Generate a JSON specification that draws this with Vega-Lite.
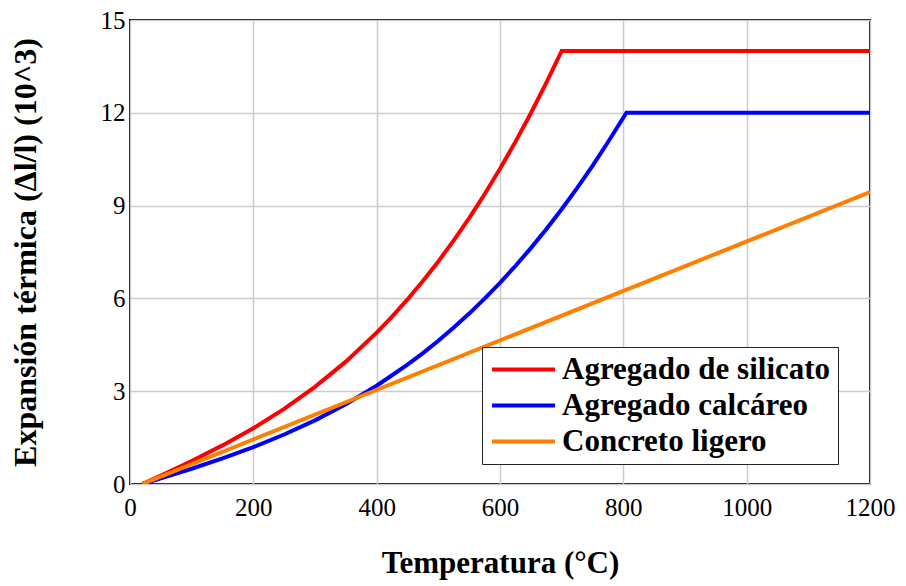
{
  "$schema": "https://vega.github.io/schema/vega-lite/v6.json",
  "width": 740,
  "height": 464,
  "autosize": {"type": "none"},
  "padding": {"left": 130, "top": 20, "right": 36, "bottom": 102},
  "background": "white",
  "config": {
    "view": {"stroke": "black", "strokeWidth": 2},
    "font": "Liberation Serif"
  },
  "data": {
    "values": [
      {"t": 20, "v": 0.0, "s": "Agregado de silicato"},
      {"t": 50, "v": 0.273, "s": "Agregado de silicato"},
      {"t": 100, "v": 0.743, "s": "Agregado de silicato"},
      {"t": 150, "v": 1.248, "s": "Agregado de silicato"},
      {"t": 200, "v": 1.804, "s": "Agregado de silicato"},
      {"t": 250, "v": 2.429, "s": "Agregado de silicato"},
      {"t": 300, "v": 3.141, "s": "Agregado de silicato"},
      {"t": 350, "v": 3.956, "s": "Agregado de silicato"},
      {"t": 400, "v": 4.892, "s": "Agregado de silicato"},
      {"t": 425, "v": 5.411, "s": "Agregado de silicato"},
      {"t": 450, "v": 5.966, "s": "Agregado de silicato"},
      {"t": 475, "v": 6.560, "s": "Agregado de silicato"},
      {"t": 500, "v": 7.195, "s": "Agregado de silicato"},
      {"t": 525, "v": 7.873, "s": "Agregado de silicato"},
      {"t": 550, "v": 8.597, "s": "Agregado de silicato"},
      {"t": 575, "v": 9.368, "s": "Agregado de silicato"},
      {"t": 600, "v": 10.188, "s": "Agregado de silicato"},
      {"t": 625, "v": 11.060, "s": "Agregado de silicato"},
      {"t": 650, "v": 11.986, "s": "Agregado de silicato"},
      {"t": 675, "v": 12.969, "s": "Agregado de silicato"},
      {"t": 700, "v": 14.0, "s": "Agregado de silicato"},
      {"t": 1200, "v": 14.0, "s": "Agregado de silicato"},
      {"t": 20, "v": 0.0, "s": "Agregado calcáreo"},
      {"t": 50, "v": 0.182, "s": "Agregado calcáreo"},
      {"t": 100, "v": 0.494, "s": "Agregado calcáreo"},
      {"t": 150, "v": 0.827, "s": "Agregado calcáreo"},
      {"t": 200, "v": 1.192, "s": "Agregado calcáreo"},
      {"t": 250, "v": 1.599, "s": "Agregado calcáreo"},
      {"t": 300, "v": 2.058, "s": "Agregado calcáreo"},
      {"t": 350, "v": 2.580, "s": "Agregado calcáreo"},
      {"t": 400, "v": 3.176, "s": "Agregado calcáreo"},
      {"t": 450, "v": 3.856, "s": "Agregado calcáreo"},
      {"t": 475, "v": 4.230, "s": "Agregado calcáreo"},
      {"t": 500, "v": 4.630, "s": "Agregado calcáreo"},
      {"t": 525, "v": 5.056, "s": "Agregado calcáreo"},
      {"t": 550, "v": 5.509, "s": "Agregado calcáreo"},
      {"t": 575, "v": 5.992, "s": "Agregado calcáreo"},
      {"t": 600, "v": 6.504, "s": "Agregado calcáreo"},
      {"t": 625, "v": 7.048, "s": "Agregado calcáreo"},
      {"t": 650, "v": 7.625, "s": "Agregado calcáreo"},
      {"t": 675, "v": 8.236, "s": "Agregado calcáreo"},
      {"t": 700, "v": 8.882, "s": "Agregado calcáreo"},
      {"t": 725, "v": 9.565, "s": "Agregado calcáreo"},
      {"t": 750, "v": 10.286, "s": "Agregado calcáreo"},
      {"t": 775, "v": 11.047, "s": "Agregado calcáreo"},
      {"t": 805, "v": 12.0, "s": "Agregado calcáreo"},
      {"t": 1200, "v": 12.0, "s": "Agregado calcáreo"},
      {"t": 20, "v": 0.0, "s": "Concreto ligero"},
      {"t": 1200, "v": 9.44, "s": "Concreto ligero"}
    ]
  },
  "mark": {"type": "line", "strokeWidth": 4, "clip": true},
  "encoding": {
    "x": {
      "field": "t",
      "type": "quantitative",
      "scale": {"domain": [0, 1200], "nice": false},
      "axis": {
        "title": "Temperatura (°C)",
        "values": [0, 200, 400, 600, 800, 1000, 1200],
        "format": "d",
        "domain": false,
        "ticks": false,
        "grid": true,
        "gridColor": "#cccccc",
        "gridWidth": 1.5,
        "gridOpacity": 1,
        "labelFont": "Liberation Serif",
        "labelFontSize": 25,
        "labelColor": "black",
        "labelPadding": 11,
        "labelFlush": false,
        "labelOverlap": false,
        "titleFont": "Liberation Serif",
        "titleFontSize": 31,
        "titleFontWeight": "bold",
        "titleColor": "black",
        "titlePadding": 28
      }
    },
    "y": {
      "field": "v",
      "type": "quantitative",
      "scale": {"domain": [0, 15], "nice": false},
      "axis": {
        "title": "Expansión térmica (Δl/l) (10^3)",
        "values": [0, 3, 6, 9, 12, 15],
        "domain": false,
        "ticks": false,
        "grid": true,
        "gridColor": "#cccccc",
        "gridWidth": 1.5,
        "gridOpacity": 1,
        "labelFont": "Liberation Serif",
        "labelFontSize": 25,
        "labelColor": "black",
        "labelPadding": 5,
        "labelFlush": false,
        "labelOverlap": false,
        "titleFont": "Liberation Serif",
        "titleFontSize": 32,
        "titleFontWeight": "bold",
        "titleColor": "black",
        "titlePadding": 58
      }
    },
    "color": {
      "field": "s",
      "type": "nominal",
      "scale": {
        "domain": ["Agregado de silicato", "Agregado calcáreo", "Concreto ligero"],
        "range": ["#ff0000", "#0000ff", "#ff8000"]
      },
      "legend": {
        "title": null,
        "orient": "none",
        "legendX": 352,
        "legendY": 327,
        "fillColor": "white",
        "strokeColor": "#222222",
        "padding": 7,
        "symbolType": "M-3,0H3",
        "symbolSize": 441,
        "symbolOffset": 19,
        "symbolStrokeWidth": 4,
        "symbolOpacity": 1,
        "labelFont": "Liberation Serif",
        "labelFontSize": 31,
        "labelFontWeight": "bold",
        "labelColor": "black",
        "labelOffset": 23,
        "labelLimit": 400,
        "rowPadding": 4
      }
    }
  }
}
